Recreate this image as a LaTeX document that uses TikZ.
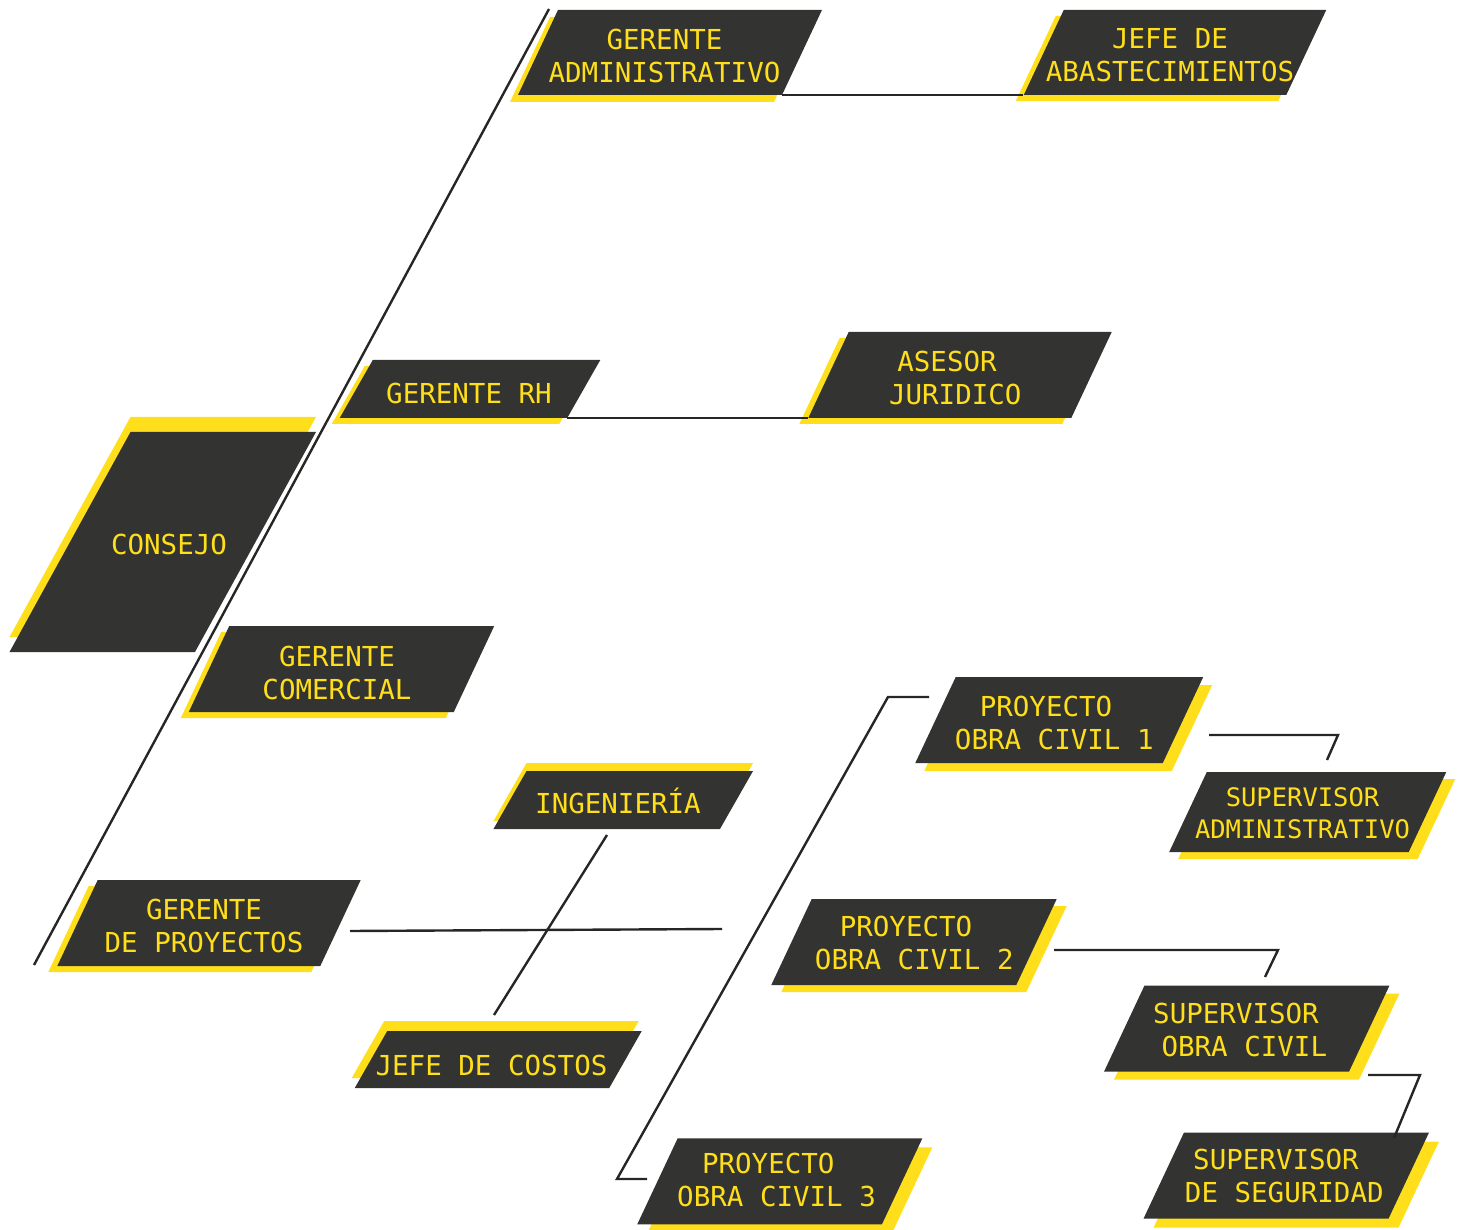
\documentclass[tikz,border=0pt]{standalone}
\usepackage{fontspec}
\usetikzlibrary{shadows}
\newfontfamily\mono{DejaVu Sans Mono}
\definecolor{oscuro}{HTML}{333331}
\definecolor{amarillo}{HTML}{FFDF1B}
\definecolor{trazo}{HTML}{262626}

\begin{document}
\begin{tikzpicture}[x=1pt, y=-1pt,
    caja/.style={fill=oscuro, inner sep=0pt, xslant=#1},
    caja/.default=0.47,
    sombra/.style 2 args={general shadow={fill=amarillo, shadow xshift=#1, shadow yshift=#2}},
    texto/.style={text=amarillo, align=center, inner sep=0pt, font=\mono\fontsize{27.5pt}{33pt}\selectfont},
    linea/.style={draw=trazo, line width=2.4pt}]
  \useasboundingbox (0,0) rectangle (1460,1230);

  % gerencias
  \node[caja, sombra={-8pt}{-7pt}, minimum width=264, minimum height=85] (gadm) at (670, 52.5) {};
  \node[texto] (gadm-t) at (664.5, 55.5) {GERENTE\\ADMINISTRATIVO};
  \node[caja, sombra={-8pt}{-6pt}, minimum width=262.5, minimum height=85] (jabas) at (1175, 52.5) {};
  \node[texto] (jabas-t) at (1170, 55.5) {JEFE DE\\ABASTECIMIENTOS};
  \node[caja=0.57, sombra={-8pt}{-6pt}, minimum width=227.5, minimum height=58] (grh) at (470, 389) {};
  \node[texto] (grh-t) at (469, 393.5) {GERENTE RH};
  \node[caja, sombra={-9pt}{-6pt}, minimum width=263, minimum height=86] (ajur) at (960, 375) {};
  \node[texto] (ajur-t) at (947, 377.5) {ASESOR\\\hphantom{0}JURIDICO};
  \node[caja=0.55, sombra={0pt}{15pt}, minimum width=185.5, minimum height=220] (cons) at (162.75, 542) {};
  \node[texto] (cons-t) at (169, 544) {CONSEJO};
  \node[caja, sombra={-8pt}{-6pt}, minimum width=265, minimum height=86] (gcom) at (341.5, 669) {};
  \node[texto] (gcom-t) at (337, 672.5) {GERENTE\\COMERCIAL};
  \node[caja=0.57, sombra={0pt}{8pt}, minimum width=226.5, minimum height=58] (ing) at (623.25, 800) {};
  \node[texto] (ing-t) at (618, 801) {INGENIERÍA};
  \node[caja, sombra={-9pt}{-6pt}, minimum width=263, minimum height=86] (gpro) at (209, 923) {};
  \node[texto] (gpro-t) at (204, 925.5) {GERENTE\\DE PROYECTOS};
  \node[caja=0.57, sombra={-3pt}{10pt}, minimum width=254.5, minimum height=57] (jcos) at (498.25, 1059.5) {};
  \node[texto] (jcos-t) at (491.5, 1065.5) {JEFE DE COSTOS};

  % proyectos
  \node[caja, sombra={9pt}{-8pt}, minimum width=247.5, minimum height=86] (poc1) at (1059.25, 720) {};
  \node[texto] (poc1-t) at (1046, 722.5) {PROYECTO\\\hphantom{0}OBRA CIVIL 1};
  \node[caja, sombra={9pt}{-7pt}, minimum width=239.5, minimum height=80] (sadm) at (1307.75, 812) {};
  \node[texto, font=\mono\fontsize{25.5pt}{32pt}\selectfont] (sadm-t) at (1302.5, 813.5) {SUPERVISOR\\ADMINISTRATIVO};
  \node[caja, sombra={10pt}{-7pt}, minimum width=245, minimum height=86] (poc2) at (914, 942) {};
  \node[texto] (poc2-t) at (906, 942.5) {PROYECTO\\\hphantom{0}OBRA CIVIL 2};
  \node[caja, sombra={10pt}{-8pt}, minimum width=245, minimum height=86] (soc) at (1246.7, 1028.7) {};
  \node[texto] (soc-t) at (1236, 1030) {SUPERVISOR\\\hphantom{0}OBRA CIVIL};
  \node[caja, sombra={10pt}{-9pt}, minimum width=245, minimum height=86] (sseg) at (1286.3, 1175.5) {};
  \node[texto] (sseg-t) at (1276, 1176.3) {SUPERVISOR\\\hphantom{0}DE SEGURIDAD};
  \node[caja, sombra={10pt}{-9pt}, minimum width=244.7, minimum height=86] (poc3) at (779.8, 1181.3) {};
  \node[texto] (poc3-t) at (768.3, 1180.3) {PROYECTO\\\hphantom{0}OBRA CIVIL 3};

  % extremos libres de las lineas
  \coordinate (eje-a) at (549, 9);
  \coordinate (eje-b) at (34, 965);
  \coordinate (gpro-a) at (350, 931);
  \coordinate (gpro-b) at (722, 929);
  \coordinate (ing-a) at (607, 835);
  \coordinate (jcos-a) at (494, 1015);
  \coordinate (pr-a) at (929, 697);
  \coordinate (pr-b) at (888, 697);
  \coordinate (pr-c) at (617, 1179);
  \coordinate (pr-d) at (647, 1179);
  \coordinate (s1-a) at (1209, 735);
  \coordinate (s1-b) at (1338, 735);
  \coordinate (s1-c) at (1327, 760);
  \coordinate (s2-a) at (1054, 950);
  \coordinate (s2-b) at (1278, 950);
  \coordinate (s2-c) at (1265, 977);
  \coordinate (s3-a) at (1368, 1075);
  \coordinate (s3-b) at (1420, 1075);
  \coordinate (s3-c) at (1394, 1138);

  \draw[linea] (eje-a) -- (eje-b);
  \draw[linea] (gadm.south east) -- (jabas.south west);
  \draw[linea] (grh.south east) -- (ajur.south west);
  \draw[linea] (gpro-a) -- (gpro-b);
  \draw[linea] (ing-a) -- (jcos-a);
  \draw[linea] (pr-a) -- (pr-b) -- (pr-c) -- (pr-d);
  \draw[linea] (s1-a) -- (s1-b) -- (s1-c);
  \draw[linea] (s2-a) -- (s2-b) -- (s2-c);
  \draw[linea] (s3-a) -- (s3-b) -- (s3-c);
\end{tikzpicture}
\end{document}
